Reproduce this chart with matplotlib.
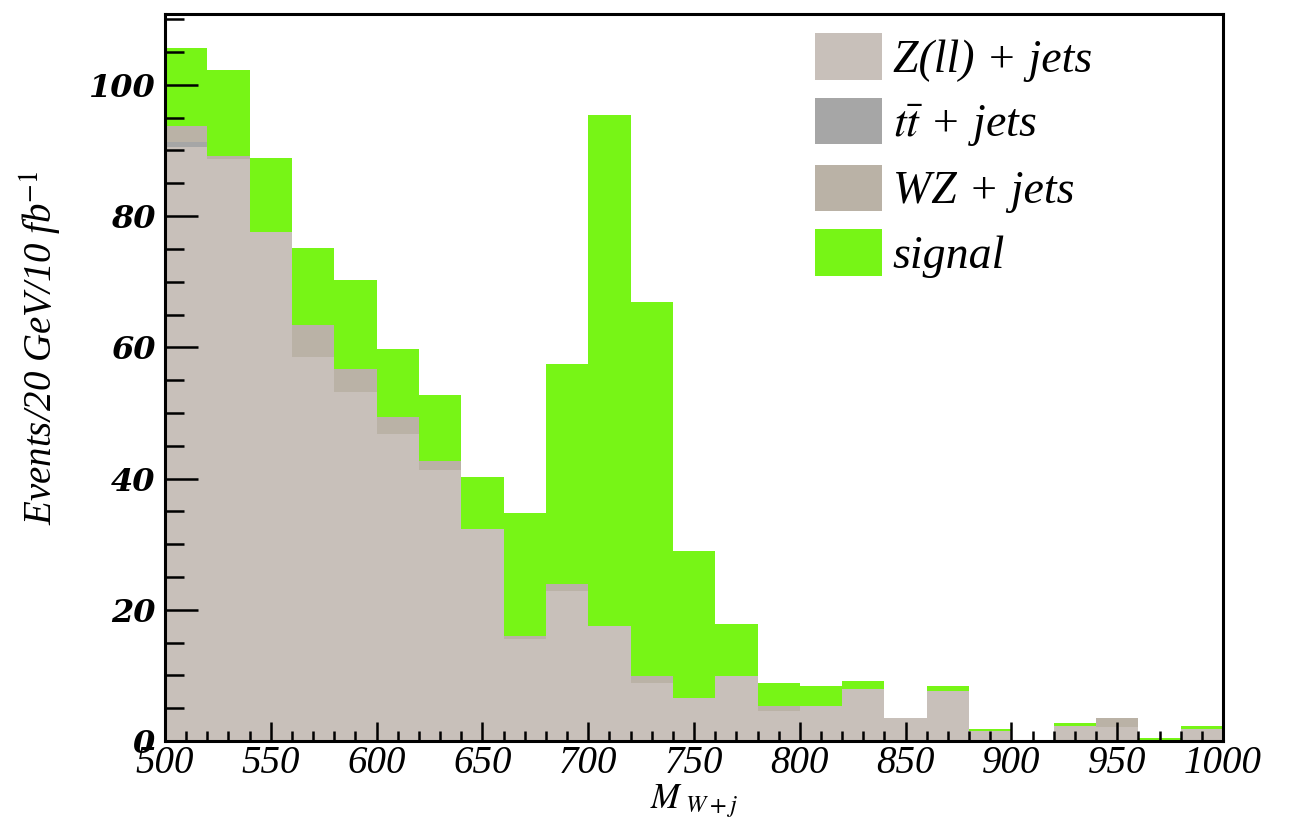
import matplotlib.pyplot as plt
from matplotlib.patches import Patch
from matplotlib.ticker import MultipleLocator
import numpy as np

plt.rcParams['mathtext.fontset'] = 'stix'

# 20 GeV bins from 500 to 1000
edges = np.arange(500, 1001, 20)
zll = [90.5, 88.7, 77.5, 58.5, 53.2, 46.8, 41.3, 32.3, 15.5, 22.8, 17.5, 8.9, 6.5,
       9.9, 4.6, 5.3, 7.9, 3.5, 7.6, 1.5, 0.0, 2.3, 2.2, 0.0, 1.9]
ttbar = [0.8, 0, 0, 0, 0, 0, 0, 0, 0, 0, 0, 0, 0,
         0, 0, 0, 0, 0, 0, 0, 0, 0, 0, 0, 0]
wz = [2.5, 0.5, 0.0, 4.9, 3.5, 2.6, 1.3, 0.0, 0.5, 1.1, 0.0, 1.0, 0.0,
      0.0, 0.7, 0.0, 0.0, 0.0, 0.0, 0.0, 0.0, 0.0, 1.3, 0.0, 0.0]
signal = [11.8, 13.0, 11.3, 11.8, 13.6, 10.3, 10.2, 8.0, 18.7, 33.5, 77.9, 57.0, 22.4,
          7.9, 3.5, 3.1, 1.2, 0.0, 0.8, 0.4, 0.0, 0.4, 0.0, 0.5, 0.4]

labels = ['Z(ll) + jets', r'$t\bar{t}$ + jets', 'WZ + jets', 'signal']
colors = ['#c8c0ba', '#a6a6a6', '#bab2a6', '#77f516']

fig = plt.figure(figsize=(12.93, 8.18), dpi=100)
ax = fig.add_axes([0.1276, 0.0941, 0.8183, 0.8888])

left = edges[:-1]
width = np.diff(edges)
bottom = np.zeros(len(left))
for vals, col in zip([zll, ttbar, wz, signal], colors):
    vals = np.array(vals, dtype=float)
    ax.bar(left, vals, width=width, bottom=bottom, align='edge', color=col,
           linewidth=0)
    bottom = bottom + vals

ax.set_xlim(500, 1000)
ax.set_ylim(0, 110.8)

ax.xaxis.set_major_locator(MultipleLocator(50))
ax.xaxis.set_minor_locator(MultipleLocator(10))
ax.yaxis.set_major_locator(MultipleLocator(20))
ax.yaxis.set_minor_locator(MultipleLocator(5))

ax.tick_params(axis='y', which='major', direction='in', length=24, width=1.8, pad=7)
ax.tick_params(axis='y', which='minor', direction='in', length=13.5, width=1.8)
ax.tick_params(axis='x', which='major', direction='in', length=13.5, width=1.8, pad=3)
ax.tick_params(axis='x', which='minor', direction='in', length=7, width=1.8)

for sp in ax.spines.values():
    sp.set_linewidth(2.2)
    sp.set_zorder(5)

for lab in ax.get_yticklabels():
    lab.set_fontfamily('DejaVu Serif')
    lab.set_fontstyle('italic')
    lab.set_fontweight('bold')
    lab.set_fontsize(23)
for lab in ax.get_xticklabels():
    lab.set_fontfamily('Liberation Serif')
    lab.set_fontstyle('italic')
    lab.set_fontsize(28)

ax.set_ylabel(r'Events/20 GeV/10 fb$^{-1}$', fontfamily='Liberation Serif',
              fontstyle='italic', fontsize=28)
ax.yaxis.set_label_coords(-0.095, 0.54)
ax.set_xlabel(r'$M_{\ W+j}$', fontsize=25, labelpad=0)

handles = [Patch(facecolor=c, edgecolor='none') for c in colors]
ax.legend(handles, labels, loc='upper left', bbox_to_anchor=(0.614, 0.974),
          borderaxespad=0, borderpad=0, frameon=False,
          prop={'family': 'Liberation Serif', 'style': 'italic', 'size': 33},
          handlelength=1.46, handleheight=1.19, labelspacing=0.35,
          handletextpad=0.24)

fig.savefig('out.png', dpi=100)
